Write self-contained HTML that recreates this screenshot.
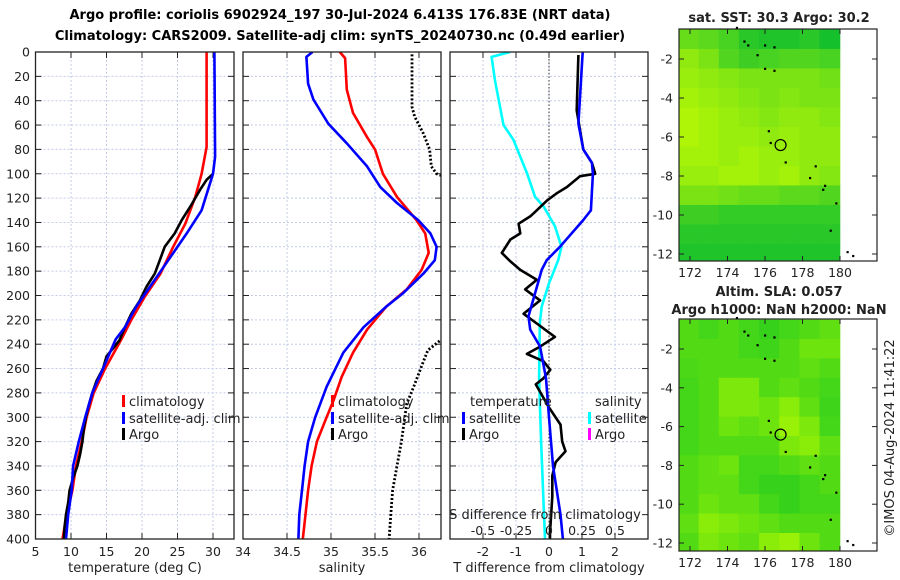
<!DOCTYPE html>
<html><head><meta charset="utf-8"><style>
html,body{margin:0;padding:0;background:#fff;}
svg{display:block;font-family:"DejaVu Sans","Liberation Sans",sans-serif;}
</style></head><body>
<svg id="c" width="900" height="580" viewBox="0 0 900 580" xmlns="http://www.w3.org/2000/svg">
<text x="340" y="19" font-size="13" font-weight="bold" text-anchor="middle">Argo profile: coriolis 6902924_197 30-Jul-2024 6.413S 176.83E (NRT data)</text>
<text x="340" y="40" font-size="13" font-weight="bold" text-anchor="middle">Climatology: CARS2009. Satellite-adj clim: synTS_20240730.nc (0.49d earlier)</text>
<g id="g"></g>
</svg>
<script>
// ---- data ----
const depthTicks = [0,20,40,60,80,100,120,140,160,180,200,220,240,260,280,300,320,340,360,380,400];
const tempTicks = [5,10,15,20,25,30];
const salTicks = [34,34.5,35,35.5,36];
const tdiffTicks = [-2,-1,0,1,2];
const sdiffTicks = [-0.5,-0.25,0,0.25,0.5];
const sdiffLabels = ["-0.5","-0.25","0","0.25","0.5"];

const tClimDepth = [0,78,100,119,141,160,182,201,220,236,260,280,300,320,340,360,380,400];
const tClim      = [29.1,29.1,28.4,27.5,26.1,24.4,22.6,20.4,18.5,17.1,14.8,13.2,12.2,11.5,10.7,10.2,9.4,8.8];
const tSatDepth  = [0,86,100,130,149,171,187,209,226,236,260,280,300,320,340,360,380,400];
const tSat       = [30.2,30.3,30.0,28.4,26.3,23.7,21.8,19.2,17.6,16.3,14.5,13.0,12.0,11.1,10.3,10.1,9.6,9.3];
const tArgoDepth = [100,105,113,127,138,149,160,171,182,193,204,215,226,237,250,260,270,280,290,300,310,320,330,340,350,360,370,380,390,400];
const tArgo      = [30.0,29.1,28.2,26.8,25.6,24.6,23.2,22.5,21.8,20.6,19.7,18.5,17.6,16.8,15.0,14.5,13.6,13.0,12.5,12.1,11.8,11.6,11.3,10.9,10.3,9.8,9.6,9.3,9.1,9.0];

const sClimDepth = [0,5,31,50,70,80,100,119,138,149,165,179,195,209,228,247,267,286,300,320,340,360,380,400];
const sClim      = [35.10,35.16,35.18,35.25,35.41,35.50,35.59,35.75,35.97,36.07,36.11,36.03,35.86,35.63,35.41,35.25,35.12,35.03,34.95,34.84,34.78,34.74,34.71,34.68];
const sSatDepth  = [0,4,26,39,59,75,94,111,124,138,149,160,171,182,198,209,226,247,275,300,320,340,360,380,400];
const sSat       = [34.79,34.72,34.74,34.80,34.97,35.18,35.41,35.56,35.75,35.99,36.13,36.20,36.18,36.05,35.82,35.63,35.37,35.14,34.95,34.82,34.74,34.70,34.67,34.64,34.63];
const sArgoDepth = [2,45,53,67,80,94,100,104,null,232,237,245,258,275,289,320,340,360,380,400];
const sArgo      = [35.92,35.92,35.95,36.05,36.12,36.14,36.2,36.35,null,36.35,36.24,36.10,36.03,35.94,35.86,35.80,35.75,35.70,35.68,35.66];

const dTSatDepth = [0,59,80,91,100,130,138,160,171,179,198,217,228,242,268,300,340,380,400];
const dTSat      = [1.02,0.89,1.04,1.30,1.33,1.27,1.04,0.33,-0.07,-0.22,-0.42,-0.62,-0.57,-0.27,-0.09,0.0,0.12,0.35,0.42];
const dTArgoDepth= [2.5,48,80,91,100,102,111,116,122,130,135,141,149,154,165,172,179,187,195,204,215,223,234,242,248,254,261,268,273,292,306,320,328,337,348,365,395,400];
const dTArgo     = [0.89,0.84,1.04,1.30,1.40,0.94,0.54,0.24,-0.06,-0.37,-0.57,-0.92,-0.87,-1.17,-1.43,-1.17,-0.87,-0.37,-0.72,-0.27,-0.77,-0.37,0.18,-0.27,-0.67,-0.17,0.04,-0.17,-0.40,0.0,0.35,0.40,0.50,0.20,0.10,0.10,0.03,0.03];
const dSSatDepth = [0,4,23,60,72,100,119,127,143,160,171,190,209,223,268,320,400];
const dSSat      = [-0.295,-0.435,-0.41,-0.345,-0.27,-0.165,-0.105,-0.04,0.045,0.095,0.07,0.0,-0.055,-0.07,-0.075,-0.06,-0.03];

const latTicks = [-2,-4,-6,-8,-10,-12];
const lonTicks = [172,174,176,178,180];
const sstGrid = [
[0.5,0.45,0.35,0.2,0.15,0.15,0.2,0.1],
[0.7,0.6,0.4,0.3,0.35,0.4,0.4,0.35],
[0.75,0.7,0.65,0.6,0.6,0.6,0.6,0.55],
[0.8,0.75,0.7,0.65,0.6,0.65,0.6,0.6],
[0.85,0.8,0.75,0.7,0.65,0.7,0.7,0.65],
[0.85,0.8,0.75,0.75,0.7,0.75,0.7,0.7],
[0.8,0.8,0.75,0.8,0.75,0.75,0.7,0.7],
[0.75,0.75,0.8,0.8,0.75,0.8,0.7,0.65],
[0.6,0.6,0.55,0.5,0.5,0.45,0.45,0.4],
[0.3,0.3,0.25,0.25,0.25,0.25,0.25,0.25],
[0.2,0.2,0.2,0.2,0.2,0.2,0.2,0.2],
[0.15,0.15,0.15,0.15,0.15,0.15,0.15,0.15]];
const slaGrid = [
[0.3,0.2,0.3,0.2,0.1,0.2,0.3,0.4],
[0.3,0.3,0.3,0.2,0.15,0.3,0.5,0.5],
[0.25,0.3,0.3,0.3,0.3,0.3,0.4,0.3],
[0.2,0.3,0.6,0.6,0.3,0.4,0.3,0.2],
[0.2,0.3,0.6,0.6,0.5,0.7,0.4,0.15],
[0.2,0.3,0.5,0.4,0.5,0.8,0.6,0.2],
[0.2,0.3,0.3,0.3,0.3,0.6,0.7,0.4],
[0.3,0.4,0.5,0.2,0.2,0.3,0.4,0.3],
[0.3,0.4,0.4,0.2,0.1,0.1,0.2,0.3],
[0.3,0.5,0.4,0.4,0.2,0.1,0.2,0.2],
[0.4,0.7,0.6,0.5,0.4,0.3,0.3,0.3],
[0.3,0.6,0.5,0.4,0.7,0.8,0.5,0.3]];
const argoLon = 176.83, argoLat = -6.413;

// ---- helpers ----
const NS="http://www.w3.org/2000/svg";
const G=document.getElementById('g');
function mk(tag,at,parent){const e=document.createElementNS(NS,tag);for(const k in at)e.setAttribute(k,at[k]);(parent||G).appendChild(e);return e;}
const Y0=52,Y1=539;
const yD = d => Y0 + d*(Y1-Y0)/400;
const xT = t => 35.5 + (t-5)*7.1;
const xS = s => 243 + (s-34)*88;
const xDT = t => 549 + t*33;
const xDS = s => 549 + s*132;

function panel(x0,x1,name){
  const g=mk('g',{});
  
  
  for(const d of depthTicks){
    if(d>0&&d<400) mk('line',{x1:x0,x2:x1,y1:yD(d),y2:yD(d),stroke:'#c4cce8','stroke-width':1,'stroke-dasharray':'2,2'},g);
    mk('line',{x1:x0,x2:x0+6,y1:yD(d),y2:yD(d),stroke:'#222','stroke-width':1},g);
    mk('line',{x1:x1-6,x2:x1,y1:yD(d),y2:yD(d),stroke:'#222','stroke-width':1},g);
  }
  return g;
}
function vgrid(g,xs,fx,x0,x1){
  for(const v of xs){const x=fx(v); if(x>x0+1&&x<x1-1) mk('line',{x1:x,x2:x,y1:Y0,y2:Y1,stroke:'#c4cce8','stroke-width':1,'stroke-dasharray':'2,2'},g);
    mk('line',{x1:x,x2:x,y1:Y1-6,y2:Y1,stroke:'#222'},g); mk('line',{x1:x,x2:x,y1:Y0,y2:Y0+6,stroke:'#222'},g);}
}
function frame(g,x0,x1){mk('rect',{x:x0,y:Y0,width:x1-x0,height:Y1-Y0,fill:'none',stroke:'#222','stroke-width':1.3},g);}
function line(g,ds,vs,fx,color,name,dash,clip){
  let d='',pen=false;
  for(let i=0;i<ds.length;i++){
    if(ds[i]===null||vs[i]===null){pen=false;continue;}
    d+=(pen?'L':'M')+fx(vs[i]).toFixed(1)+','+yD(ds[i]).toFixed(1);pen=true;
  }
  const at={d:d,fill:'none',stroke:color,'stroke-width':dash?2.8:2.6,'stroke-linejoin':'round'};
  if(dash)at['stroke-dasharray']=dash;
  if(clip)at['clip-path']=clip;
  const p=mk('path',at,g);
  
  
  return p;
}
function txt(g,x,y,s,at){const t=mk('text',Object.assign({x:x,y:y,'font-size':12.5,fill:'#222'},at||{}),g);t.textContent=s;return t;}
function legendBar(g,x,y,color,label,name){
  const r=mk('rect',{x:x,y:y-6,width:3,height:12,fill:color},g);
  
  
  const t=txt(g,x+7,y+5,label,{'font-size':13});
  
  
}
const defs=mk('defs',{});
function clip(id,x0,x1){const c=mk('clipPath',{id:id},defs);mk('rect',{x:x0,y:Y0,width:x1-x0,height:Y1-Y0},c);}
clip('c1',35.5,234);clip('c2',243,441);clip('c3',450,648);

// ---- panel 1: temperature ----
const p1=panel(35.5,234,'temperature-panel');
vgrid(p1,tempTicks,xT,35.5,234);
for(const d of depthTicks){const t=txt(p1,30,yD(d)+4.5,String(d),{'text-anchor':'end'});}
for(const v of tempTicks){txt(p1,xT(v),556,String(v),{'text-anchor':'middle'});}
txt(p1,243,556,'34',{'text-anchor':'middle'});
const xl1=txt(p1,135,572,'temperature (deg C)',{'text-anchor':'middle','font-size':13});

line(p1,tClimDepth,tClim,xT,'#ff0000','temp-climatology-line',null,'url(#c1)');
line(p1,tArgoDepth,tArgo,xT,'#000000','temp-argo-line',null,'url(#c1)');
line(p1,tSatDepth,tSat,xT,'#0000ff','temp-satellite-line',null,'url(#c1)');
frame(p1,35.5,234);
legendBar(p1,122,401,'#ff0000','climatology','legend-climatology');
legendBar(p1,122,418,'#0000ff','satellite-adj. clim','legend-satellite-adj');
legendBar(p1,122,434,'#000000','Argo','legend-argo');

// ---- panel 2: salinity ----
const p2=panel(243,441,'salinity-panel');
vgrid(p2,salTicks,xS,243,441);
for(let i=1;i<salTicks.length;i++){txt(p2,xS(salTicks[i]),556,String(salTicks[i]),{'text-anchor':'middle'});}
const xl2=txt(p2,342,572,'salinity',{'text-anchor':'middle','font-size':13});

line(p2,sClimDepth,sClim,xS,'#ff0000','sal-climatology-line',null,'url(#c2)');
line(p2,sSatDepth,sSat,xS,'#0000ff','sal-satellite-line',null,'url(#c2)');
line(p2,sArgoDepth,sArgo,xS,'#000000','sal-argo-line','2,2','url(#c2)');
frame(p2,243,441);
legendBar(p2,331,401,'#ff0000','climatology','legend2-climatology');
legendBar(p2,331,418,'#0000ff','satellite-adj. clim','legend2-satellite-adj');
legendBar(p2,331,434,'#000000','Argo','legend2-argo');

// ---- panel 3: differences ----
const p3=panel(450,648,'difference-panel');
vgrid(p3,tdiffTicks,xDT,450,648);
mk('line',{x1:xDT(0),x2:xDT(0),y1:Y0,y2:Y1,stroke:'#333','stroke-width':1,'stroke-dasharray':'1.5,2'},p3);
for(const v of tdiffTicks){txt(p3,xDT(v),556,String(v),{'text-anchor':'middle'});}
const xl3=txt(p3,549,572,'T difference from climatology',{'text-anchor':'middle','font-size':13});

line(p3,dSSatDepth,dSSat,xDS,'#00ffff','sdiff-satellite-line',null,'url(#c3)');
line(p3,dTArgoDepth,dTArgo,xDT,'#000000','tdiff-argo-line',null,'url(#c3)');
line(p3,dTSatDepth,dTSat,xDT,'#0000ff','tdiff-satellite-line',null,'url(#c3)');
frame(p3,450,648);
const sl=txt(p3,545,519,'S difference from climatology',{'text-anchor':'middle','font-size':13});

for(let i=0;i<sdiffTicks.length;i++){txt(p3,xDS(sdiffTicks[i]),535,sdiffLabels[i],{'text-anchor':'middle'});}
txt(p3,470,406,'temperature',{'font-size':13});
txt(p3,595,406,'salinity',{'font-size':13});
legendBar(p3,462,418,'#0000ff','satellite','legend3-temp-satellite');
legendBar(p3,462,434,'#000000','Argo','legend3-temp-argo');
legendBar(p3,588,418,'#00ffff','satellite','legend3-sal-satellite');
legendBar(p3,588,434,'#ff00ff','Argo','legend3-sal-argo');

// ---- maps ----
function col(v){const r=Math.round(0+v*205),g=Math.round(185+v*70),b=Math.round(50-v*50);return `rgb(${r},${g},${b})`;}
function col2(v){const r=Math.round(40+v*140),g=Math.round(205+v*45),b=Math.round(30-v*30);return `rgb(${r},${g},${b})`;}
function map(top,bot,latY2,latY12,grid,cf,name,t1,t2){
  const g=mk('g',{});
  
  
  const fx=lon=>690+(lon-172)*18.75;
  const fy=lat=>latY2+(-2-lat)*(latY12-latY2)/10;
  const cp=mk('clipPath',{id:name+'-clip'},defs);mk('rect',{x:679,y:top,width:198,height:bot-top},cp);
  const cg=mk('g',{'clip-path':`url(#${name}-clip)`},g);
  for(let r=0;r<grid.length;r++)for(let c=0;c<grid[r].length;c++){
    const lat=-0.5-r, lon=171.4+c*1.075;
    const cell=mk('rect',{x:fx(lon)-0.3,y:fy(lat)-0.3,width:1.075*18.75+0.6,height:(latY12-latY2)/10+0.6,fill:cf(grid[r][c])},cg);
    
    
  }
  mk('rect',{x:fx(180.05),y:top,width:877-fx(180.05),height:bot-top,fill:'#fff'},cg);
  mk('rect',{x:679,y:top,width:198,height:bot-top,fill:'none',stroke:'#222','stroke-width':1.2},g);
  for(const l of latTicks){const y=fy(l);mk('line',{x1:679,x2:684,y1:y,y2:y,stroke:'#222'},g);mk('line',{x1:872,x2:877,y1:y,y2:y,stroke:'#222'},g);txt(g,673,y+4.5,String(l),{'text-anchor':'end'});}
  for(const l of lonTicks){const x=fx(l);mk('line',{x1:x,x2:x,y1:bot-5,y2:bot,stroke:'#222'},g);mk('line',{x1:x,x2:x,y1:top,y2:top+5,stroke:'#222'},g);txt(g,x,bot+16,String(l),{'text-anchor':'middle'});}
  const mk2=mk('ellipse',{cx:fx(argoLon),cy:fy(argoLat),rx:5.5,ry:5.5,fill:'none',stroke:'#000','stroke-width':1.2},g);
  
  
  const isl=[[174.5,-0.4],[174.9,-1.1],[175.1,-1.3],[175.6,-1.8],[176.0,-1.3],[176.5,-1.4],[176.0,-2.5],[176.5,-2.6],[176.2,-5.7],[176.3,-6.3],[177.1,-7.3],[178.7,-7.5],[178.4,-8.1],[179.2,-8.5],[179.1,-8.7],[179.8,-9.4],[179.5,-10.8],[180.4,-11.9],[180.7,-12.1]];
  for(const p of isl){mk('rect',{x:fx(p[0])-1,y:fy(p[1])-1,width:2.2,height:2.2,fill:'#000'},g);}
  return g;
}
const m1=map(29,261,59,254,sstGrid,col,'sst-map');
const tt1=txt(m1,779,22,'sat. SST: 30.3 Argo: 30.2',{'text-anchor':'middle','font-size':13,'font-weight':'bold'});

const m2=map(319,551,349,543,slaGrid,col2,'sla-map');
const tt2=txt(m2,779,296,'Altim. SLA: 0.057',{'text-anchor':'middle','font-size':13,'font-weight':'bold'});

const tt3=txt(m2,779,314,'Argo h1000: NaN h2000: NaN',{'text-anchor':'middle','font-size':13,'font-weight':'bold'});

const st=txt(G,894,438,'©IMOS 04-Aug-2024 11:41:22',{'text-anchor':'middle','font-size':13,transform:'rotate(-90 894 438)'});


</script>
</body></html>
